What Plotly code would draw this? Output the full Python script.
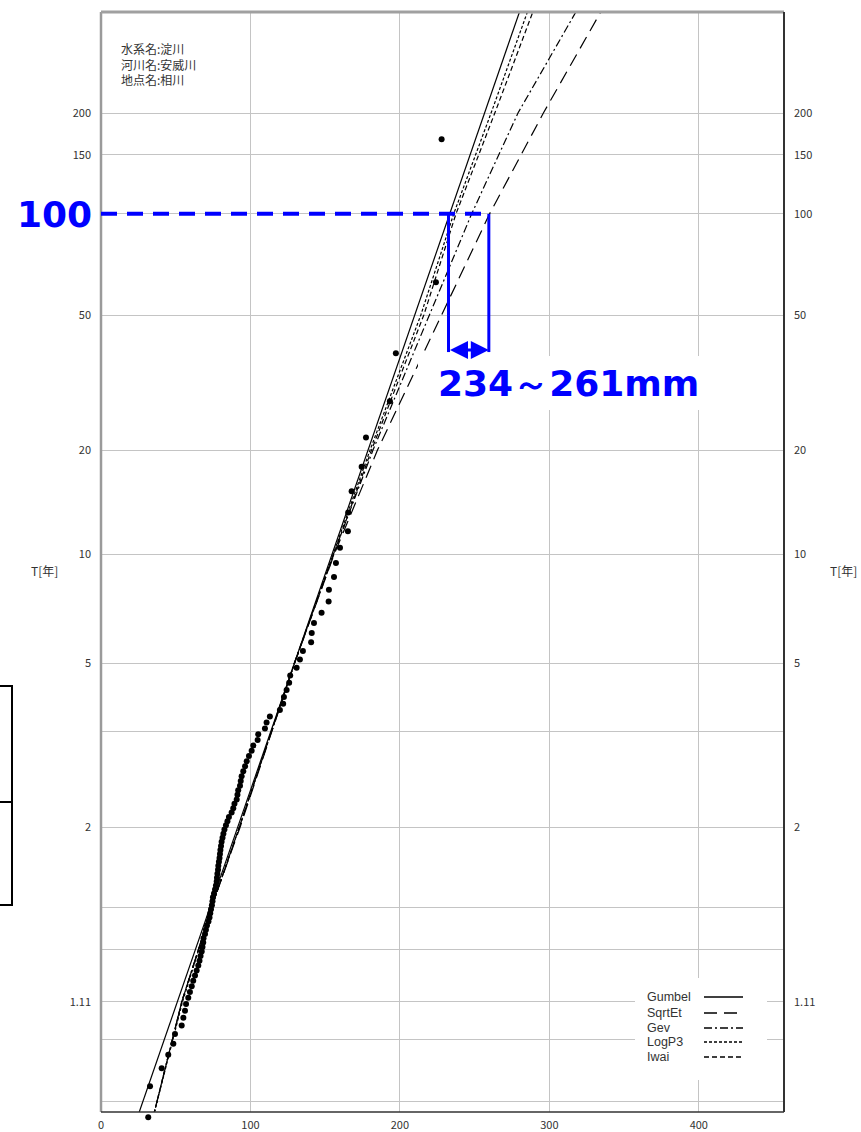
import numpy as np
import plotly.graph_objects as go

# ---------------- data ----------------
# annual maximum rainfall [mm], sorted ascending (100 years)
rain_mm = [31.6, 32.8, 40.6, 45.0, 48.4, 49.5, 54.0, 55.1, 56.2, 56.9,
           58.4, 59.5, 60.7, 61.7, 62.9, 64.0, 65.1, 65.9, 66.6, 67.4,
           67.9, 68.4, 68.6, 69.6, 70.2, 70.9, 71.9, 72.6, 73.1, 73.6,
           74.2, 74.6, 74.9, 75.6, 76.3, 76.9, 77.4, 77.6, 77.9, 78.3,
           78.5, 78.9, 79.3, 79.6, 79.9, 80.3, 80.7, 81.3, 81.9, 82.6,
           83.6, 84.6, 85.6, 87.4, 88.5, 89.3, 90.8, 91.3, 91.8, 93.0,
           93.5, 94.1, 95.2, 96.4, 97.5, 99.0, 100.8, 101.9, 104.8, 105.2,
           109.7, 110.8, 113.0, 119.7, 121.9, 122.4, 124.2, 125.9, 126.6, 130.9,
           133.1, 135.1, 140.6, 141.0, 142.5, 147.6, 152.3, 152.5, 155.9, 157.2,
           159.9, 165.2, 165.4, 167.7, 174.4, 177.3, 193.3, 197.3, 224.1, 227.9]

# fitted distributions: rainfall at return periods
T_line = [1.005, 1.11, 1.5, 2, 5, 10, 20, 50, 100, 200, 500]
gumbel = [23.2, 51.0, 75.9, 91.4, 129.4, 154.6, 178.7, 209.9, 233.3, 256.7, 287.4]
sqrtet = [34.0, 54.0, 77.0, 93.0, 129.5, 156.0, 185.0, 227.6, 260.0, 296.0, 346.5]
gev    = [34.0, 54.0, 77.0, 92.5, 129.3, 155.5, 182.0, 220.0, 248.0, 279.0, 330.0]
logp3  = [34.0, 54.5, 77.0, 92.5, 129.5, 155.5, 180.0, 214.0, 236.0, 261.0, 293.0]
iwai   = [34.0, 54.0, 77.0, 92.5, 129.5, 156.0, 181.0, 216.0, 237.5, 263.5, 297.0]

series_names = ["Gumbel", "SqrtEt", "Gev", "LogP3", "Iwai"]
series_vals = [gumbel, sqrtet, gev, logp3, iwai]
series_dash = ["solid", "13px,7px", "8px,3px,2px,3px", "3px,2px", "5px,3px"]

# axis ticks
x_ticks = [0, 100, 200, 300, 400]
T_labels = [1.11, 2, 5, 10, 20, 50, 100, 150, 200]
T_label_text = ["1.11", "2", "5", "10", "20", "50", "100", "150", "200"]
F_extra_grid = [0.01, 0.05, 0.2, 0.3, 0.7]

# annotation (100-year rainfall range)
ann_T = 100
ann_lo, ann_hi = 232.5, 259.5
ann_text = "234～261mm"

info_lines = ["水系名:淀川", "河川名:安威川", "地点名:相川"]

# ---------------- helpers ----------------
def u_from_T(T):
    T = np.asarray(T, float)
    return -np.log(-np.log(1.0 - 1.0 / T))

def u_from_F(F):
    F = np.asarray(F, float)
    return -np.log(-np.log(F))

W, H = 861, 1132
L, R, TOP, BOT = 101, 77, 12, 12
FRAME_BOTTOM = 1112                      # pixel row of the chart frame bottom
PW, PH = W - L - R, H - TOP - BOT

def px(x):
    return (x - L) / PW

def py(y):
    return (H - BOT - y) / PH

n = len(rain_mm)
rank = np.arange(1, n + 1)
F_plot = (rank - 0.4) / (n + 0.2)          # Cunnane plotting position
u_pts = u_from_F(F_plot)

y_range = [-1.597, 5.993]
x_range = [0, 457]
dom_bottom = py(FRAME_BOTTOM)
# a full-height overlay subplot for the plotted points, so the lowest point
# (slightly below the frame) is still drawn
u_per_paper = (y_range[1] - y_range[0]) / (1 - dom_bottom)
y3_range = [y_range[0] - dom_bottom * u_per_paper, y_range[1]]

fig = go.Figure()
for name, vals, dash in zip(series_names, series_vals, series_dash):
    fig.add_trace(go.Scatter(x=vals, y=u_from_T(T_line), mode="lines", name=name,
                             line=dict(color="black", width=1.2, dash=dash),
                             showlegend=False, hoverinfo="skip"))

fig.add_trace(go.Scatter(x=rain_mm, y=u_pts, mode="markers", name="obs",
                         xaxis="x2", yaxis="y3",
                         marker=dict(color="black", size=6), cliponaxis=False,
                         showlegend=False))
# dummy trace for right axis
fig.add_trace(go.Scatter(x=[None], y=[None], yaxis="y2", showlegend=False))

grid_u = list(u_from_T(T_labels)) + list(u_from_F(F_extra_grid))
# left "100" label is covered by the big blue "100" in the reference
left_txt = ["" if t == "100" else t for t in T_label_text]
grid_txt = left_txt + [""] * len(F_extra_grid)

tickfont = dict(family="Noto Sans CJK JP", size=11, color="#333333")

fig.update_layout(
    width=W, height=H,
    margin=dict(l=L, r=R, t=TOP, b=BOT, pad=0, autoexpand=False),
    paper_bgcolor="white", plot_bgcolor="rgba(0,0,0,0)",
    showlegend=False,
    xaxis=dict(range=x_range, tickvals=x_ticks, ticktext=[str(v) for v in x_ticks],
               showgrid=True, gridcolor="#c4c4c4", gridwidth=1, zeroline=False,
               showline=False, ticks="", tickfont=tickfont, ticklabelstandoff=5,
               automargin=False, anchor="y", domain=[0, 1]),
    yaxis=dict(range=y_range, tickvals=grid_u, ticktext=grid_txt, domain=[dom_bottom, 1],
               showgrid=True, gridcolor="#c4c4c4", gridwidth=1, zeroline=False,
               showline=False, ticks="", tickfont=tickfont, ticklabelstandoff=9,
               automargin=False, anchor="x"),
    yaxis2=dict(range=y_range, overlaying="y", side="right",
                tickvals=list(u_from_T(T_labels)), ticktext=T_label_text,
                showgrid=False, zeroline=False, showline=False, ticks="",
                tickfont=tickfont, ticklabelstandoff=9, automargin=False),
    xaxis2=dict(range=x_range, domain=[0, 1], anchor="y3", visible=False,
                showgrid=False, zeroline=False),
    yaxis3=dict(range=y3_range, domain=[0, 1], anchor="x2", visible=False,
                showgrid=False, zeroline=False),
)

shapes = []
# frame
shapes.append(dict(type="line", xref="x domain", yref="y domain", x0=0, x1=0, y0=0, y1=1,
                   line=dict(color="#9a9a9a", width=2.5)))
shapes.append(dict(type="line", xref="x domain", yref="y domain", x0=0, x1=1, y0=1, y1=1,
                   line=dict(color="#a0a0a0", width=3)))
shapes.append(dict(type="line", xref="x domain", yref="y domain", x0=1, x1=1, y0=0, y1=1,
                   line=dict(color="#333333", width=2)))
shapes.append(dict(type="line", xref="x domain", yref="y domain", x0=0, x1=1, y0=0, y1=0,
                   line=dict(color="#333333", width=1.5)))

# white box behind label and legend
shapes.append(dict(type="rect", xref="paper", yref="paper", x0=px(418), x1=px(706),
                   y0=py(410), y1=py(356), fillcolor="white", line=dict(width=0),
                   layer="above"))
shapes.append(dict(type="rect", xref="paper", yref="paper", x0=px(635), x1=px(767),
                   y0=py(1080), y1=py(978), fillcolor="white", line=dict(width=0),
                   layer="above"))

# legend samples
leg_y = [997, 1013, 1028, 1042, 1057]
annotations = []
for name, dash, yy in zip(series_names, series_dash, leg_y):
    shapes.append(dict(type="line", xref="paper", yref="paper", x0=px(704), x1=px(743),
                       y0=py(yy), y1=py(yy), line=dict(color="black", width=1.4, dash=dash),
                       layer="above"))
    annotations.append(dict(xref="paper", yref="paper", x=px(645), y=py(yy), text=name,
                            showarrow=False, xanchor="left", yanchor="middle",
                            font=dict(family="Liberation Sans", size=12.5, color="#333333")))

# blue annotation lines
u100 = float(u_from_T(ann_T))
shapes.append(dict(type="line", xref="x domain", yref="y", x0=0, x1=ann_hi / x_range[1],
                   y0=u100, y1=u100, line=dict(color="#0000ff", width=4, dash="16px,10px"),
                   layer="above"))
u_line_end = (880.5 - 352) / 144.93
for xv in (ann_lo, ann_hi):
    shapes.append(dict(type="line", xref="x", yref="y", x0=xv, x1=xv, y0=u100,
                       y1=u_line_end, line=dict(color="#0000ff", width=3), layer="above"))

# left cut-off box
shapes.append(dict(type="rect", xref="paper", yref="paper", x0=px(-30), x1=px(12),
                   y0=py(905), y1=py(686), line=dict(color="black", width=2),
                   fillcolor="rgba(0,0,0,0)"))
shapes.append(dict(type="line", xref="paper", yref="paper", x0=px(-30), x1=px(12),
                   y0=py(802), y1=py(802), line=dict(color="black", width=2)))

# double arrow
u_arrow = (880.5 - 350) / 144.93
annotations.append(dict(x=ann_hi, y=u_arrow, ax=ann_lo, ay=u_arrow, xref="x", yref="y",
                        axref="x", ayref="y", showarrow=True, arrowhead=2, startarrowhead=2,
                        arrowside="end+start", arrowsize=1.2, startarrowsize=1.2,
                        arrowwidth=3, arrowcolor="#0000ff", text=""))

annotations.append(dict(xref="paper", yref="paper", x=px(568), y=py(383), text=ann_text,
                        showarrow=False, xanchor="center", yanchor="middle",
                        font=dict(family="DejaVu Sans", size=36, color="#0000ff", weight="bold")))
annotations.append(dict(xref="paper", yref="paper", x=px(54), y=py(214), text=str(ann_T),
                        showarrow=False, xanchor="center", yanchor="middle", bgcolor="white",
                        font=dict(family="DejaVu Sans", size=36, color="#0000ff", weight="bold")))

# info text (one block)
annotations.append(dict(xref="paper", yref="paper", x=px(119), y=py(38), text="<br>".join(info_lines),
                        showarrow=False, xanchor="left", yanchor="top", align="left",
                        font=dict(family="Noto Sans CJK JP", size=12, color="#333333")))

# T[年] labels
for xx in (44, 844):
    annotations.append(dict(xref="paper", yref="paper", x=px(xx), y=py(570), text="T[年]",
                            showarrow=False, xanchor="center", yanchor="middle",
                            font=dict(family="Noto Sans CJK JP", size=12, color="#333333")))

fig.update_layout(shapes=shapes, annotations=annotations)
fig.write_html("out.html")
